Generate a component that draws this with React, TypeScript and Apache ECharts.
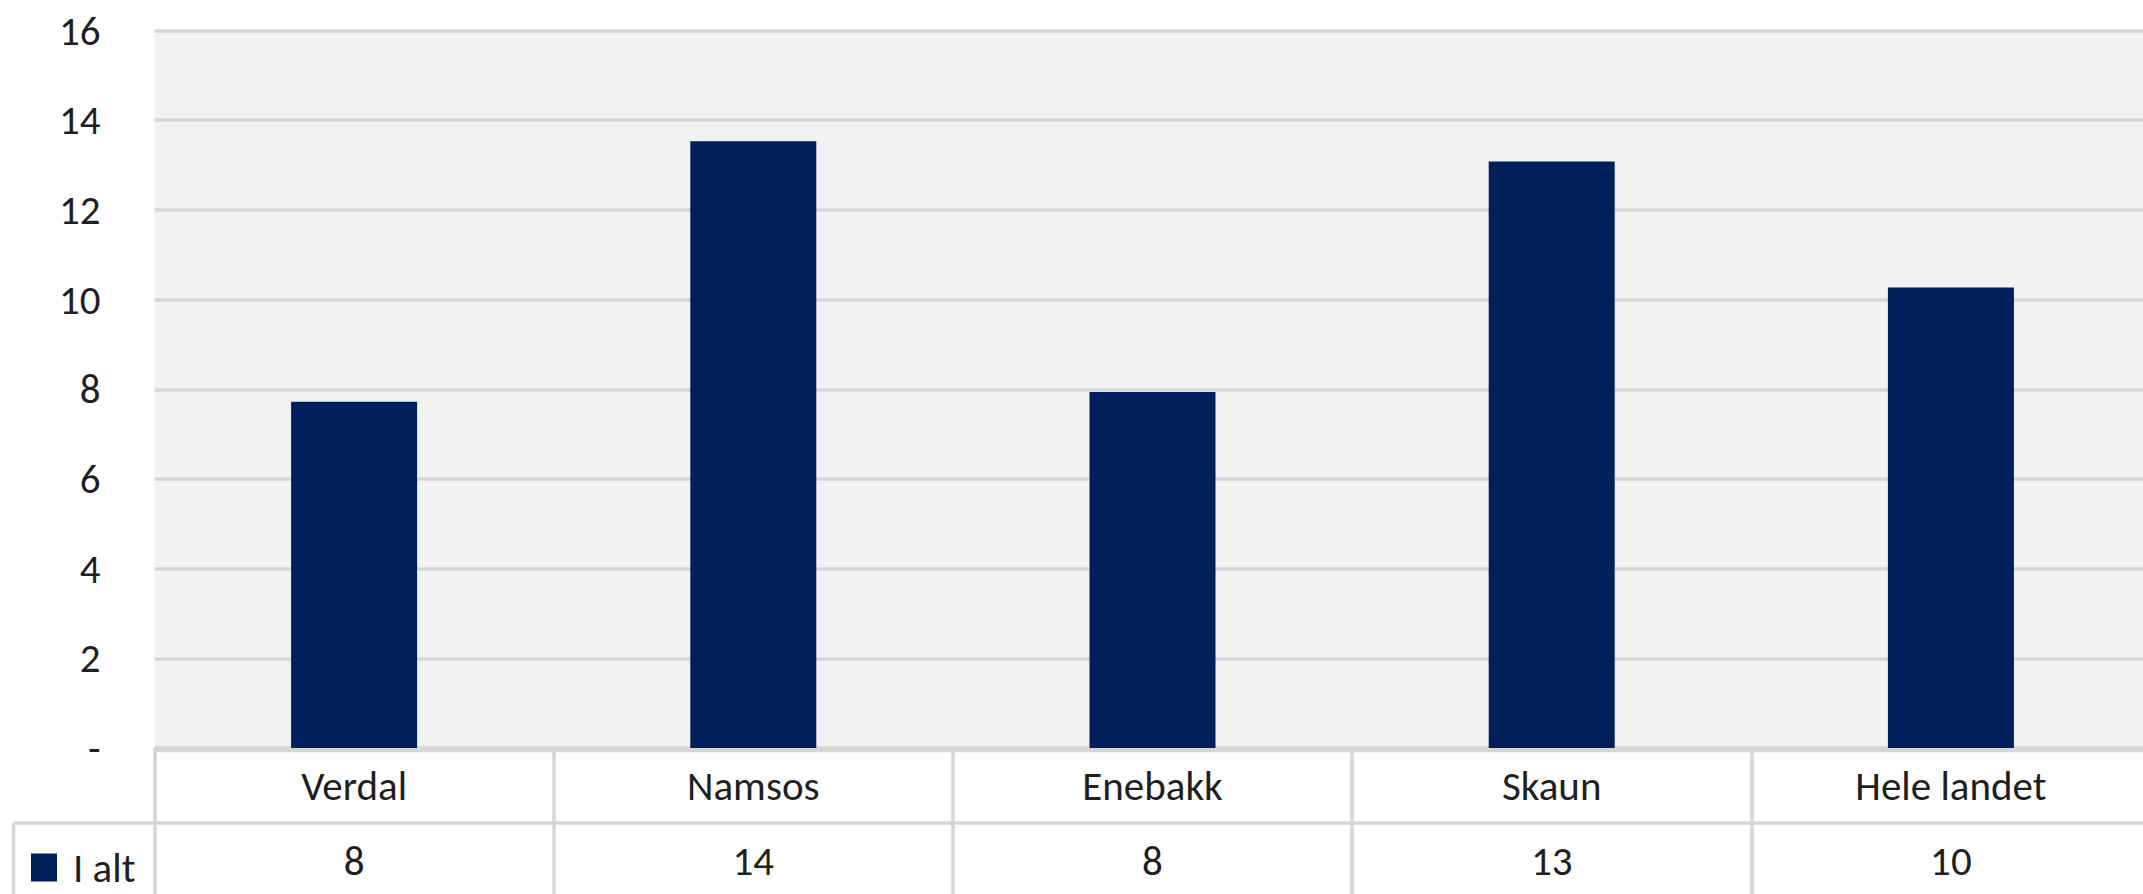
import React, { useEffect, useRef } from "react";
import * as echarts from "echarts";

// ---- data ----
const categories = ["Verdal", "Namsos", "Enebakk", "Skaun", "Hele landet"];
const seriesName = "I alt";
const values = [7.72, 13.53, 7.94, 13.08, 10.27];
const yMin = 0;
const yMax = 16;
const yInterval = 2;

// ---- layout / style ----
const W = 2143;
const H = 894;
const GRID_LEFT = 154.5;
const GRID_TOP = 30.5;
const GRID_H = 717.5;
const CAT_W = 399.2;
const GRID_W = CAT_W * categories.length;
const ROW_H = 72.5;
const FONT = 'Calibri, Carlito, Lato, "Noto Sans", sans-serif';
const FS = 41;
const TEXT = "#1f1f1f";
const LINE = "#d6d6d6";
const BAR = "#00205b";

export default function App() {
  const ref = useRef<HTMLDivElement>(null);
  useEffect(() => {
    document.body.style.margin = "0";
    const chart = echarts.init(ref.current!, null, { renderer: "svg" });
    const axisY = GRID_TOP + GRID_H;
    const tableTop = axisY + 2.5;
    const sepY = tableTop + ROW_H;
    chart.setOption({
      animation: false,
      backgroundColor: "#ffffff",
      textStyle: { fontFamily: FONT },
      grid: {
        left: GRID_LEFT,
        top: GRID_TOP,
        width: GRID_W,
        height: GRID_H,
        outerBoundsMode: "none",
        containLabel: false,
        show: true,
        backgroundColor: "#f2f2f2",
        borderWidth: 0,
      },
      legend: {
        data: [seriesName],
        left: 31,
        top: sepY + 24,
        padding: 0,
        icon: "rect",
        itemWidth: 26,
        itemHeight: 28,
        textStyle: { fontSize: FS, color: TEXT, fontFamily: FONT, padding: [0, 0, 0, 11] },
      },
      xAxis: [
        {
          type: "category",
          data: categories,
          position: "bottom",
          axisLine: { show: false },
          axisTick: {
            show: true,
            alignWithLabel: false,
            length: H - axisY,
            lineStyle: { color: LINE, width: 3.5 },
          },
          axisLabel: {
            interval: 0,
            margin: 38,
            fontSize: FS,
            color: TEXT,
            verticalAlign: "middle",
          },
        },
        {
          type: "category",
          data: values.map((v) => String(Math.round(v))),
          position: "bottom",
          axisLine: { show: false },
          axisTick: { show: false },
          axisLabel: {
            interval: 0,
            margin: 113,
            fontSize: FS,
            color: TEXT,
            verticalAlign: "middle",
          },
        },
      ],
      yAxis: {
        type: "value",
        min: yMin,
        max: yMax,
        interval: yInterval,
        axisLine: { show: false },
        axisTick: { show: false },
        axisLabel: {
          margin: 54,
          fontSize: FS,
          color: TEXT,
          formatter: (v: number) => (v === 0 ? "-" : String(v)),
        },
        splitLine: { lineStyle: { color: LINE, width: 3.5 } },
      },
      series: [
        {
          type: "bar",
          name: seriesName,
          data: values,
          barWidth: 126,
          xAxisIndex: 0,
          itemStyle: { color: BAR },
        },
      ],
      graphic: [
        {
          type: "line",
          z: 10,
          shape: { x1: GRID_LEFT - 1.5, y1: tableTop, x2: W, y2: tableTop },
          style: { stroke: LINE, lineWidth: 3.5 },
        },
        {
          type: "line",
          z: 10,
          shape: { x1: 13.5, y1: sepY, x2: W, y2: sepY },
          style: { stroke: LINE, lineWidth: 3.5 },
        },
        {
          type: "line",
          z: 10,
          shape: { x1: 13.5, y1: sepY, x2: 13.5, y2: H },
          style: { stroke: LINE, lineWidth: 3.5 },
        },
      ],
    });
    return () => chart.dispose();
  }, []);
  return <div ref={ref} style={{ width: W, height: H }} />;
}
